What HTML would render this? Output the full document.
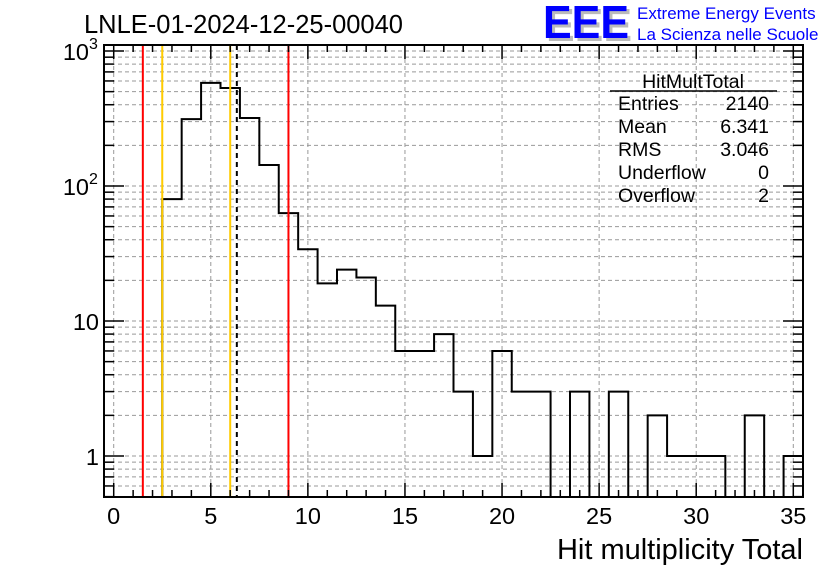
<!DOCTYPE html>
<html><head><meta charset="utf-8"><style>
body{margin:0;background:#fff;}
svg text{font-family:"Liberation Sans",Arial,sans-serif;}
</style></head><body>
<svg id="c" width="836" height="572" xmlns="http://www.w3.org/2000/svg">
<rect width="836" height="572" fill="#fff"/>
<text x="84" y="33" font-size="25.5">LNLE-01-2024-12-25-00040</text>
<g>
<text x="546" y="41" font-size="46" font-weight="bold" fill="#bbb" textLength="86" lengthAdjust="spacingAndGlyphs">EEE</text>
<text x="543" y="38" font-size="46" font-weight="bold" fill="#0000ff" textLength="86" lengthAdjust="spacingAndGlyphs">EEE</text>
<text x="637" y="19" font-size="17" fill="#0000ff">Extreme Energy Events</text>
<text x="637" y="40" font-size="17" fill="#0000ff">La Scienza nelle Scuole</text>
</g>
<g id="grid"></g>
<g id="marks"></g>
<g id="axes"></g>
<g font-size="19.5">
<text x="693" y="88" text-anchor="middle">HitMultTotal</text>
<line x1="610" y1="91" x2="777" y2="91" stroke="#000" stroke-width="1.5"/>
<text x="618" y="110">Entries</text><text x="769" y="110" text-anchor="end">2140</text>
<text x="618" y="133">Mean</text><text x="769" y="133" text-anchor="end">6.341</text>
<text x="618" y="156">RMS</text><text x="769" y="156" text-anchor="end">3.046</text>
<text x="618" y="179">Underflow</text><text x="769" y="179" text-anchor="end">0</text>
<text x="618" y="202">Overflow</text><text x="769" y="202" text-anchor="end">2</text>
</g>
<text x="803" y="559" font-size="29" text-anchor="end">Hit multiplicity Total</text>
</svg>
<script>
const binCenters=[3,4,5,6,7,8,9,10,11,12,13,14,15,16,17,18,19,20,21,22,23,24,25,26,27,28,29,30,31,32,33,34,35];
const counts=[80,313,580,532,319,143,63,34,19,24,21,13,6,6,8,3,1,6,3,3,0,3,0,3,0,2,1,1,1,0,2,0,1];
const xTicks=[0,5,10,15,20,25,30,35];
const redLines=[1.5,9.0];
const orangeLines=[2.5,6.0];
const meanValue=[6.341];
const L=104,R=803,T=45,B=497,XMIN=-0.5,XMAX=35.5;
const xs=v=>L+(v-XMIN)*(R-L)/(XMAX-XMIN);
const Y1=456,DEC=135;
const ys=v=>v<=0?B:Math.min(B,Y1-DEC*Math.log10(v));
const NS="http://www.w3.org/2000/svg";
function mk(p,t,a){const e=document.createElementNS(NS,t);for(const k in a)e.setAttribute(k,a[k]);p.appendChild(e);return e;}
const grid=document.getElementById('grid'),marks=document.getElementById('marks'),axes=document.getElementById('axes');
for(const t of xTicks){const l=mk(grid,'line',{x1:xs(t),x2:xs(t),y1:T,y2:B,stroke:'#999','stroke-dasharray':'4,3','stroke-width':1});

}
const yMinor=[];for(let d=-1;d<=3;d++)for(let m=1;m<10;m++){const v=m*Math.pow(10,d);const y=ys(v);if(y>T&&y<B)yMinor.push([v,m]);}
for(const [v] of yMinor){const l=mk(grid,'line',{x1:L,x2:R,y1:ys(v),y2:ys(v),stroke:'#999','stroke-dasharray':'4,3','stroke-width':1});

}
let d='';let started=false;
binCenters.forEach((c,i)=>{const x0=xs(c-0.5),x1=xs(c+0.5),y=ys(counts[i]);
if(!started){d+=`M${x0},${B}`;started=true;}
d+=`L${x0},${y}L${x1},${y}`;});
d+=`L${xs(binCenters[binCenters.length-1]+0.5)},${B}`;
const h=mk(marks,'path',{d:d,fill:'none',stroke:'#000','stroke-width':2});


for(const v of redLines){const l=mk(marks,'line',{x1:xs(v),x2:xs(v),y1:T,y2:B,stroke:'#ff0000','stroke-width':2});

}
for(const v of orangeLines){const l=mk(marks,'line',{x1:xs(v),x2:xs(v),y1:T,y2:B,stroke:'#ffcc00','stroke-width':2});

}
for(const v of meanValue){const l=mk(marks,'line',{x1:xs(v),x2:xs(v),y1:T,y2:B,stroke:'#000','stroke-width':2,'stroke-dasharray':'5,4'});

}
const fr=mk(axes,'rect',{x:L,y:T,width:R-L,height:B-T,fill:'none',stroke:'#000','stroke-width':2});


for(let v=0;v<=35;v++){const maj=v%5===0,len=maj?14:7,x=xs(v);
mk(axes,'line',{x1:x,x2:x,y1:B,y2:B-len,stroke:'#000','stroke-width':1.5});
mk(axes,'line',{x1:x,x2:x,y1:T,y2:T+len,stroke:'#000','stroke-width':1.5});}
for(const t of xTicks){const tx=mk(axes,'text',{x:xs(t),y:524,'font-size':23.5,'text-anchor':'middle'});tx.textContent=t;

}
for(const [v,m] of yMinor){const len=m===1?20:10,y=ys(v);
mk(axes,'line',{x1:L,x2:L+len,y1:y,y2:y,stroke:'#000','stroke-width':1.5});
mk(axes,'line',{x1:R,x2:R-len,y1:y,y2:y,stroke:'#000','stroke-width':1.5});}
const yLab=[[1,'1',''],[10,'10',''],[100,'10','2'],[1000,'10','3']];
for(const [v,b,s] of yLab){const y=ys(v)+9;
const tx=mk(axes,'text',{x:s?89:99,y:y,'font-size':23.5,'text-anchor':'end'});tx.textContent=b;


if(s){const sp=mk(axes,'text',{x:89,y:y-11,'font-size':16});sp.textContent=s;}}
</script>
</body></html>
